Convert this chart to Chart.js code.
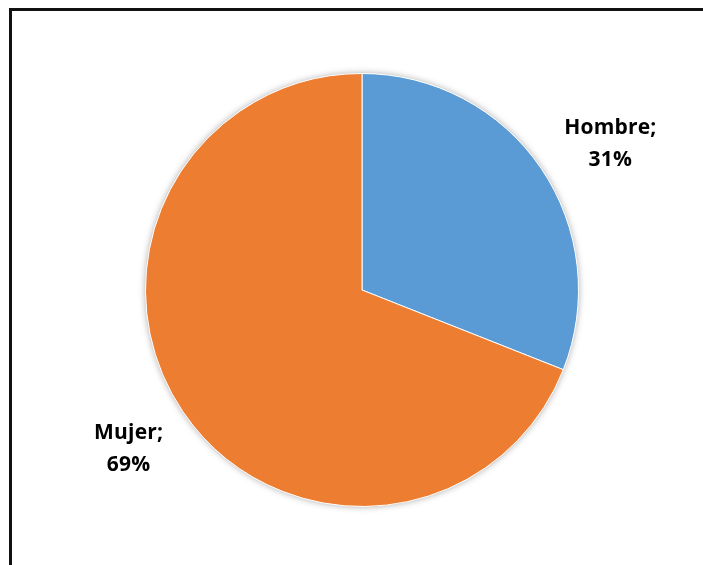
<!DOCTYPE html>
<html>
<head>
<meta charset="utf-8">
<script src="https://cdn.jsdelivr.net/npm/chart.js@4/dist/chart.umd.min.js"></script>
<style>
  html, body { margin: 0; padding: 0; background: #fff; }
  #wrap { position: relative; width: 703px; height: 565px; overflow: hidden; }
  #frame {
    position: absolute; left: 9px; top: 8px; width: 720px; height: 600px;
    border-top: 3px solid #111; border-left: 3px solid #111; box-sizing: border-box;
  }
  canvas { position: absolute; left: 0; top: 0; }
</style>
</head>
<body>
<div id="wrap">
  <div id="frame"></div>
  <canvas id="pie" width="703" height="565"></canvas>
</div>
<script>
// Datos del gráfico
const categorias = ['Hombre', 'Mujer'];
const porcentajes = [31, 69];
const colores = ['#5B9BD5', '#ED7D31'];

// Soft shadow behind the pie, like the Excel original
const pieShadow = {
    id: 'pieShadow',
    beforeDatasetsDraw(chart) {
        const arc = chart.getDatasetMeta(0).data[0];
        if (!arc) return;
        const ctx = chart.ctx;
        ctx.save();
        ctx.shadowColor = 'rgba(0,0,0,0.35)';
        ctx.shadowBlur = 7;
        ctx.fillStyle = '#fff';
        ctx.beginPath();
        ctx.arc(arc.x, arc.y, arc.outerRadius, 0, Math.PI * 2);
        ctx.fill();
        ctx.restore();
    }
};

// Data labels "Categoria;" / "NN%" placed outside the slices
const outsideLabels = {
    id: 'outsideLabels',
    afterDatasetsDraw(chart, args, opts) {
        const ctx = chart.ctx;
        const meta = chart.getDatasetMeta(0);
        ctx.save();
        ctx.font = opts.font;
        ctx.letterSpacing = opts.letterSpacing;
        ctx.fillStyle = '#000';
        ctx.textAlign = 'center';
        ctx.textBaseline = 'middle';
        meta.data.forEach((arc, i) => {
            const mid = (arc.startAngle + arc.endAngle) / 2;
            const r = arc.outerRadius * opts.distance;
            const off = opts.offsets[i] || [0, 0];
            const x = arc.x + Math.cos(mid) * r + off[0];
            const y = arc.y + Math.sin(mid) * r + off[1];
            ctx.fillText(categorias[i] + ';', x, y - opts.lineHeight / 2);
            ctx.fillText(porcentajes[i] + '%', x, y + opts.lineHeight / 2);
        });
        ctx.restore();
    }
};

const ctx = document.getElementById('pie').getContext('2d');
new Chart(ctx, {
    type: 'pie',
    data: {
        labels: categorias,
        datasets: [{
            data: porcentajes,
            backgroundColor: colores,
            borderColor: '#fff',
            borderWidth: 1,
            hoverOffset: 0
        }]
    },
    options: {
        responsive: false,
        animation: false,
        layout: {
            padding: { left: 145, right: 124, top: 73, bottom: 58 }
        },
        plugins: {
            legend: { display: false },
            tooltip: { enabled: false },
            outsideLabels: {
                font: 'bold 21px "Open Sans", Lato, sans-serif',
                letterSpacing: '0.2px',
                lineHeight: 32,
                distance: 1.32,
                offsets: [[12, 15], [3, -2]]
            }
        }
    },
    plugins: [pieShadow, outsideLabels]
});
</script>
</body>
</html>
